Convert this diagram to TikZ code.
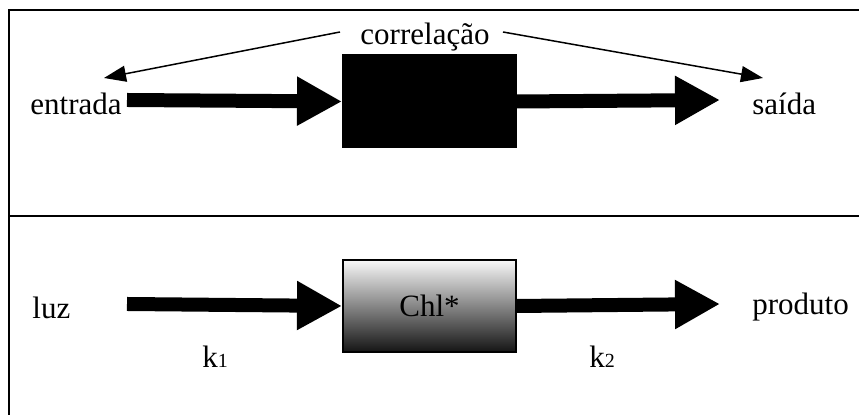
\documentclass[tikz,border=0pt]{standalone}
\usepackage{fontspec}
\setmainfont{Liberation Serif}
\usetikzlibrary{arrows.meta, positioning, calc}

\begin{document}
\begin{tikzpicture}[x=0.5pt, y=-0.5pt,
  every node/.style={font=\fontsize{15.5}{18}\selectfont, inner sep=0pt},
  bigarrow/.style={line width=7pt, -{Triangle[length=22.5pt,width=23pt]}},
  thinarrow/.style={line width=0.75pt, -{Triangle[length=11pt,width=8pt]}},
  blockbox/.style={draw, line width=1pt, minimum width=86.5pt, minimum height=46pt}]
\useasboundingbox (0,0) rectangle (859,415);

% moldura e divisao
\draw[line width=0.8pt] (859,10) -- (9,10) -- (9,415);
\draw[line width=1pt] (9,216) -- (859,216);

% caixa preta
\node[blockbox, fill=black] (BB) at (429.5,101.5) {};
\node[anchor=base west] (E) at (30,115) {entrada};
\node[anchor=base west] (S) at (752,115) {saída};
\node[anchor=base] (C) at (425,45) {correlação};
\coordinate (E0) at (127,100);
\coordinate (S0) at (720,100);
\coordinate (CL) at (340,32);
\coordinate (CR) at (503,32);
\coordinate (CLt) at (104,78);
\coordinate (CRt) at (763,78);

\draw[bigarrow] (E0) -- (BB.west);
\draw[bigarrow] (BB.east) -- (S0);
\draw[thinarrow] (CL) -- (CLt);
\draw[thinarrow] (CR) -- (CRt);

% Chl*
\node[blockbox, top color=white!97!black, middle color=black!28, bottom color=black!92] (Chl) at (429.5,306) {Chl*};
\node[anchor=base west] (L) at (32,319) {luz};
\node[anchor=base west] (P) at (752,315) {produto};
\node[anchor=base west] (K1) at (202,368) {k{\fontsize{10}{12}\selectfont 1}};
\node[anchor=base west] (K2) at (589,368) {k{\fontsize{10}{12}\selectfont 2}};
\coordinate (L0) at (127,304);
\coordinate (P0) at (720,304);

\draw[bigarrow] (L0) -- (Chl.west);
\draw[bigarrow] (Chl.east) -- (P0);
\end{tikzpicture}
\end{document}
